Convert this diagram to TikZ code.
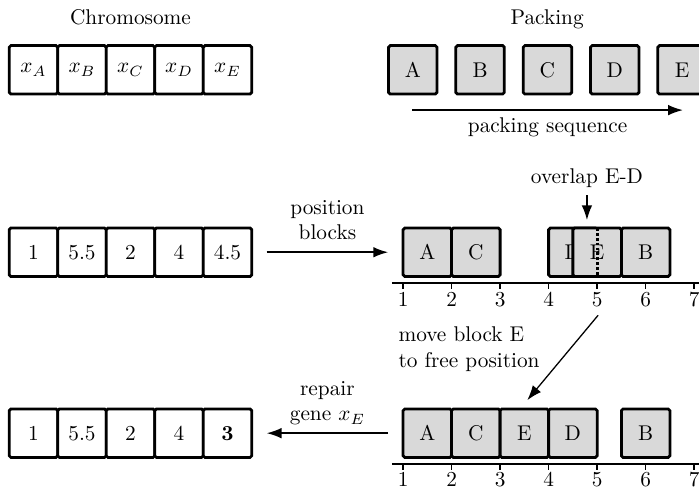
\documentclass[tikz,border=0pt]{standalone}
\usepackage{xcolor}
\usepackage{tikz}
\usetikzlibrary{shapes,arrows.meta,positioning}

\begin{document}
\begin{tikzpicture}
  [
    x=0.8cm, y=0.8cm,
    Gene/.style={rectangle, draw=black, fill=white, line width=1.3pt, rounded corners=0.8pt, minimum size=8mm, inner sep=0pt, outer sep=0pt},
    Block/.style={Gene, fill=gray!30},
    Arrow/.style={-{Latex[length=7pt, width=5pt]}, thick},
    Axis/.style={thick}
  ]
  \clip (-7.31,-10.1) rectangle (7.1,0);

  % Titles
  \node[anchor=base] (chromTitle) at (-4.62,-0.5) {Chromosome};
  \node[anchor=base] (packTitle) at (3.97,-0.5) {Packing};

  % Chromosome
  \node[Gene] (chA) at (-6.62,-1.44) {$x_A$};
  \node[Gene, right=0pt of chA] (chB) {$x_B$};
  \node[Gene, right=0pt of chB] (chC) {$x_C$};
  \node[Gene, right=0pt of chC] (chD) {$x_D$};
  \node[Gene, right=0pt of chD] (chE) {$x_E$};

  % Packing
  \node[Block] (pkA) at (1.2,-1.44) {A};
  \node[Block, right=3.1mm of pkA] (pkB) {B};
  \node[Block, right=3.1mm of pkB] (pkC) {C};
  \node[Block, right=3.1mm of pkC] (pkD) {D};
  \node[Block, right=3.1mm of pkD] (pkE) {E};
  \coordinate (seqStart) at (1.19,-2.27);
  \coordinate (seqEnd) at (6.77,-2.27);
  \draw[Arrow] (seqStart) -- node[below] (seqText) {packing sequence} (seqEnd);

  % Decoded chromosome
  \node[Gene] (valA) at (-6.62,-5.2) {1};
  \node[Gene, right=0pt of valA] (valB) {5.5};
  \node[Gene, right=0pt of valB] (valC) {2};
  \node[Gene, right=0pt of valC] (valD) {4};
  \node[Gene, right=0pt of valD] (valE) {4.5};

  % Positioned blocks
  \node[Block] (posA) at (1.5,-5.2) {A};
  \node[Block] (posC) at (2.5,-5.2) {C};
  \node[Block] (posD) at (4.5,-5.2) {D};
  \node[Block] (posE) at (5,-5.2) {E};
  \node[Block] (posB) at (6,-5.2) {B};
  \draw[line width=1.4pt, dash pattern=on 1.3pt off 1pt] (posE.north) -- (posE.south);
  \draw[Axis] (0.77,-5.84) -- (7.3,-5.84);
  \foreach \i in {1,...,7}
    \draw[Axis] (\i,-5.84) -- (\i,-5.96) node[below, inner sep=1pt] (tickP\i) {\i};

  \node (olap) at (4.79,-3.67) {overlap E-D};
  \coordinate (olapTip) at (4.79,-4.54);

  % Repaired blocks
  \node[Block] (movA) at (1.5,-8.93) {A};
  \node[Block] (movC) at (2.5,-8.93) {C};
  \node[Block] (movE) at (3.5,-8.93) {E};
  \node[Block] (movD) at (4.5,-8.93) {D};
  \node[Block] (movB) at (6,-8.93) {B};
  \draw[Axis] (0.77,-9.57) -- (7.3,-9.57);
  \foreach \i in {1,...,7}
    \draw[Axis] (\i,-9.57) -- (\i,-9.69) node[below, inner sep=0.5pt] (tickM\i) {\i};

  \node[align=left, anchor=west] (moveText) at (0.75,-7.2) {move block E\\to free position};
  \coordinate (moveFrom) at (5.02,-6.5);
  \coordinate (moveTo) at (3.56,-8.25);

  % Repaired chromosome
  \node[Gene] (repA) at (-6.62,-8.93) {1};
  \node[Gene, right=0pt of repA] (repB) {5.5};
  \node[Gene, right=0pt of repB] (repC) {2};
  \node[Gene, right=0pt of repC] (repD) {4};
  \node[Gene, right=0pt of repD] (repE) {\textbf{3}};

  % Lines
  \draw[Arrow, shorten <=7pt, shorten >=7pt] (valE) -- node[above=2pt, align=center] (posText) {position\\blocks} (posA);
  \draw[Arrow] (olap) -- (olapTip);
  \draw[Arrow, semithick] (moveFrom) -- (moveTo);
  \draw[Arrow, shorten <=7pt, shorten >=7pt] (movA) -- node[above, align=center] (repText) {repair\\gene $x_E$} (repE);

\end{tikzpicture}
\end{document}
